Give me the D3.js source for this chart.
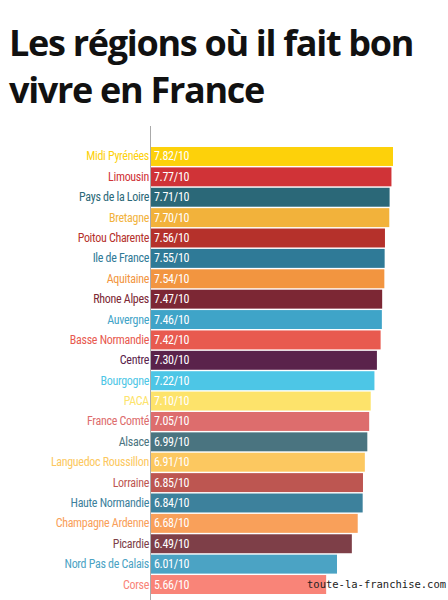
<!DOCTYPE html><html><head><meta charset="utf-8"><script src="https://cdn.jsdelivr.net/npm/d3@7"></script>
<style>body{margin:0;background:#fff}</style></head><body><svg id="c" width="448" height="600"></svg>
<script>
const regions=["Midi Pyrénées","Limousin","Pays de la Loire","Bretagne","Poitou Charente","Ile de France","Aquitaine","Rhone Alpes","Auvergne","Basse Normandie","Centre","Bourgogne","PACA","France Comté","Alsace","Languedoc Roussillon","Lorraine","Haute Normandie","Champagne Ardenne","Picardie","Nord Pas de Calais","Corse"];
const scores=[7.82,7.77,7.71,7.70,7.56,7.55,7.54,7.47,7.46,7.42,7.30,7.22,7.10,7.05,6.99,6.91,6.85,6.84,6.68,6.49,6.01,5.66];
const colors=["#fdd10a","#d03337","#2b6878","#f2b23b","#b5312b","#2f7a97","#f29540","#7c2734","#3fa4c8","#e85a4f","#5a234b","#4dc6e6","#fde36b","#dd6d6d","#4a7480","#fcc860","#bd5651","#3d819c","#f9a05a","#7e3f48","#4ba3c4","#f98478"];
const svg=d3.select("#c");
const title=["Les régions où il fait bon","vivre en France"];
svg.selectAll("text.t").data(title).join("text").attr("x",9).attr("y",(d,i)=>56+i*47)
 .attr("font-family","Open Sans").attr("font-weight",700).attr("font-size",36).attr("letter-spacing",-1.3).attr("fill","#111").text(d=>d);
const x=d3.scaleLinear().domain([0,7.82]).range([151,393]);
const y=d3.scaleBand().domain(regions).range([147,594]).paddingInner(0.07);
const F="'Liberation Sans Narrow','Roboto Condensed','Roboto',sans-serif";
const g=svg.append("g");
g.selectAll("rect").data(regions).join("rect").attr("x",x(0)).attr("y",d=>y(d)).attr("height",y.bandwidth())
 .attr("width",(d,i)=>x(scores[i])-x(0)).attr("fill",(d,i)=>colors[i]);
g.selectAll("text.v").data(regions).join("text").attr("x",x(0)+3).attr("y",d=>y(d)+y.bandwidth()/2+4)
 .attr("font-family",F).attr("font-size",12).attr("letter-spacing",-0.3).attr("fill","#fff").text((d,i)=>scores[i].toFixed(2)+"/10");
g.selectAll("text.l").data(regions).join("text").attr("x",x(0)-2).attr("y",d=>y(d)+y.bandwidth()/2+4)
 .attr("text-anchor","end").attr("font-family",F).attr("font-size",12).attr("letter-spacing",-0.3).attr("fill",(d,i)=>colors[i]).text(d=>d);
svg.append("line").attr("x1",150.5).attr("x2",150.5).attr("y1",126).attr("y2",600).attr("stroke","#aaa");
svg.append("text").attr("x",307).attr("y",588).attr("font-family","DejaVu Sans Mono").attr("font-size",10.5).attr("fill","#222").text("toute-la-franchise.com");
</script></body></html>
